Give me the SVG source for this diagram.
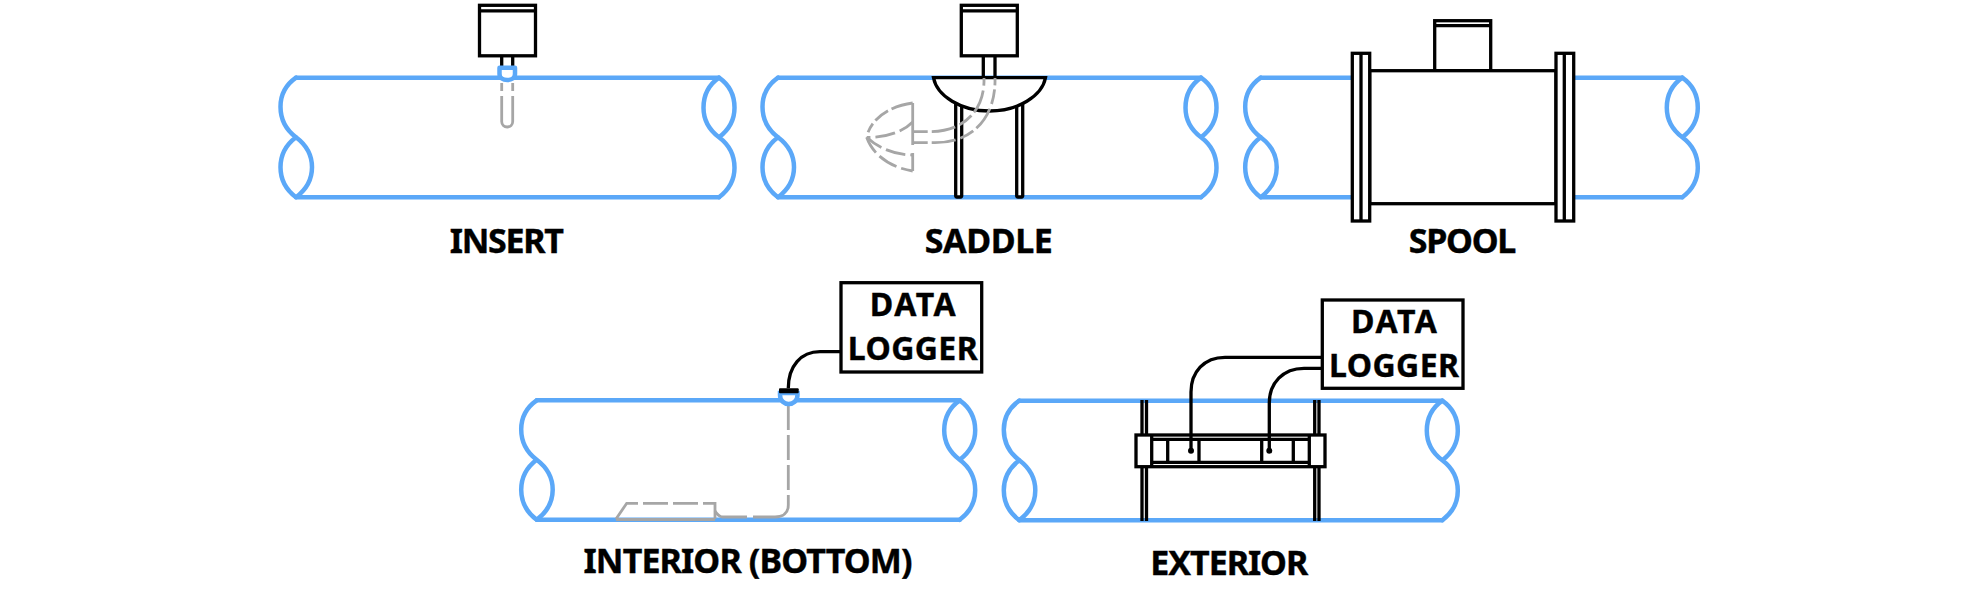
<svg xmlns="http://www.w3.org/2000/svg" width="1987" height="595" viewBox="0 0 1987 595">
<style>
text{font-family:"Noto Sans","Open Sans","Liberation Sans",sans-serif;font-weight:700;fill:#000;stroke:#000;stroke-width:.4;text-anchor:middle}
.lbl{font-size:34px}
.log{font-size:32px}
.pipe{fill:none;stroke:#5ba8f8;stroke-width:4.500;stroke-linejoin:round;stroke-linecap:round}
.k{fill:#fff;stroke:#000;stroke-width:3.300}
.kn{fill:none;stroke:#000;stroke-width:3.300}
.g{fill:none;stroke:#a6a6a6;stroke-width:2.800;stroke-dasharray:24 5}
.gs{fill:none;stroke:#a6a6a6;stroke-width:2.800}
</style>
<defs>
<path id="endL" d="M0 0C-10 7-15.500 17-15.500 29C-15.500 42-10 52 0 59.500C10 67 16 77 16 89.500C16 102 10 112 0 119.500C-10 112-15.500 102-15.500 89.500C-15.500 77-10 67 0 59.500"/>
<path id="endR" d="M0 0C10 7 15.500 17 15.500 30C15.500 43 10 52 0 59.500C-10 52-15.500 43-15.500 30C-15.500 17-10 7 0 0M0 59.500C10 67 15.500 78 15.500 90C15.500 102 10 112 0 119.500"/>
<g id="pipe" class="pipe">
<use href="#endL"/><use href="#endR" x="423"/>
<path d="M0 0H423M0 119.500H423"/>
</g>
<g id="head">
<rect class="k" x="0" y="0" width="56" height="50.500"/>
<path class="kn" d="M0 5.500H56"/>
</g>
</defs>

<g id="insert">
<use href="#pipe" x="296" y="77.700"/>
<path class="kn" d="M501.700 56V66M512.700 56V66"/>
<use href="#head" x="479.500" y="5.300"/>
<path class="gs" d="M501.700 83V91M512.700 83V91M501.700 96V121.500A5.500 5.500 0 0 0 512.700 121.500V96"/>
<path d="M499.500 67.700H515V74C515 78 511.500 80 507.200 80C503 80 499.500 78 499.500 74Z" fill="#fff" stroke="#5ba8f8" stroke-width="4.500" stroke-linejoin="round"/>
<text class="lbl" x="506.800" y="253" textLength="114" lengthAdjust="spacing">INSERT</text>
</g>

<g id="saddle">
<use href="#pipe" x="778" y="77.700"/>
<path class="k" d="M955.700 100V195.500Q955.700 197 957 197H960.500Q961.700 197 961.700 195.500V100Z"/>
<path class="k" d="M1016.700 100V195.500Q1016.700 197 1018 197H1021.500Q1022.700 197 1022.700 195.500V100Z"/>
<path class="k" d="M933.500 77.700C937 96 961 111 989.500 111C1018 111 1042 96 1045.500 77.700Z"/>
<path class="kn" d="M983.300 56V77M995 56V77"/>
<use href="#head" x="961.300" y="5.300"/>
<path class="g" style="stroke-dasharray:15 4 24 5" d="M912.700 131.700H930C962 131.700 985 112 984 78"/>
<path class="g" style="stroke-dasharray:15 4 24 5" d="M912.700 142.700H935C975 142.700 996 115 995 78"/>
<path class="gs" d="M912.700 103V145M912.700 153V171"/>
<path class="gs" stroke-dasharray="22 4 16 4 10" d="M912.700 103C888 106 870 120 866.700 137.300"/>
<path class="gs" stroke-dasharray="18 5 20 5" d="M866.700 137.300C872 153 888 167 912.700 171"/>
<path class="gs" stroke-dasharray="16 5 20 5" d="M912.700 122C903 132 885 138 866.700 137.300"/>
<path class="gs" stroke-dasharray="18 5 20 5" d="M866.700 137.300C878 148 895 155 912.700 155"/>
<text class="lbl" x="988.800" y="253" textLength="128" lengthAdjust="spacing">SADDLE</text>
</g>

<g id="spool">
<g class="pipe">
<use href="#endL" x="1260.700" y="77.700"/><use href="#endR" x="1682.300" y="77.700"/>
<path d="M1260.700 77.700H1353M1260.700 197.200H1353M1572.700 77.700H1682.300M1572.700 197.200H1682.300"/>
</g>
<rect class="k" x="1434.700" y="20.700" width="56" height="50"/>
<path class="kn" d="M1434.700 25.700H1490.700"/>
<rect class="k" x="1369.700" y="70.700" width="186.300" height="133"/>
<rect class="k" x="1352.300" y="53.300" width="17.400" height="167.700"/>
<path class="kn" d="M1361 53.300V221"/>
<rect class="k" x="1556" y="53.300" width="17.700" height="167.700"/>
<path class="kn" d="M1564.300 53.300V221"/>
<text class="lbl" x="1462.500" y="253" textLength="107.500" lengthAdjust="spacing">SPOOL</text>
</g>

<g id="interior">
<use href="#pipe" x="536.700" y="400.300"/>
<path class="g" style="stroke-dasharray:25 5" d="M788.300 405V505"/>
<path class="gs" d="M788.300 505C788.300 513 783 517 775 517H753M747 517H722Q718 516 715 511"/>
<path class="gs" d="M715 519V503.300H703M698 503.300H673M668 503.300H643M638 503.300H626.700L616 519"/>
<path class="gs" d="M616 519.500H715"/>
<path d="M780 393H797.500V395C797.500 401 793 404 788.700 404C784.500 404 780 401 780 395Z" fill="#fff" stroke="#5ba8f8" stroke-width="4.500"/>
<rect x="779" y="388.300" width="19.700" height="5" rx="1" fill="#000"/>
<text class="lbl" x="748" y="573.300" textLength="329" lengthAdjust="spacing">INTERIOR (BOTTOM)</text>
</g>

<g id="logger1">
<rect class="k" x="841" y="282.700" width="140.700" height="89.300"/>
<text class="log" x="912.700" y="316" textLength="86" lengthAdjust="spacing">DATA</text>
<text class="log" x="912.700" y="360" textLength="130" lengthAdjust="spacing">LOGGER</text>
</g>

<g id="exterior">
<use href="#pipe" x="1019.300" y="400.700"/>
<path class="kn" d="M1142 400V521M1146.500 400V521M1314.700 400V521M1319 400V521"/>
<rect class="k" x="1136" y="435" width="189" height="31.700"/>
<path class="kn" d="M1151.700 435V466.700M1309.300 435V466.700M1151.700 439.300H1309.300M1151.700 462.300H1309.300M1167.700 439.300V462.300M1199 439.300V462.300M1261.700 439.300V462.300M1293.300 439.300V462.300"/>
<text class="lbl" x="1229.300" y="575" textLength="158" lengthAdjust="spacing">EXTERIOR</text>
</g>

<g id="logger2">
<rect class="k" x="1322.300" y="300" width="140.700" height="88.300"/>
<text class="log" x="1394" y="333.300" textLength="86" lengthAdjust="spacing">DATA</text>
<text class="log" x="1394" y="377.300" textLength="130" lengthAdjust="spacing">LOGGER</text>
</g>

<g id="connectors">
<path class="kn" d="M841 351.700H820C801 351.700 788.300 366 788.300 388.300"/>
<path class="kn" d="M1322.300 357.300H1225C1204 357.300 1191 372 1191 392V450.700"/>
<path class="kn" d="M1322.300 368.300H1304C1283 368.300 1269.300 383 1269.300 403V450.700"/>
<circle cx="1191" cy="450.700" r="3"/>
<circle cx="1269.300" cy="450.700" r="3"/>
</g>
</svg>
